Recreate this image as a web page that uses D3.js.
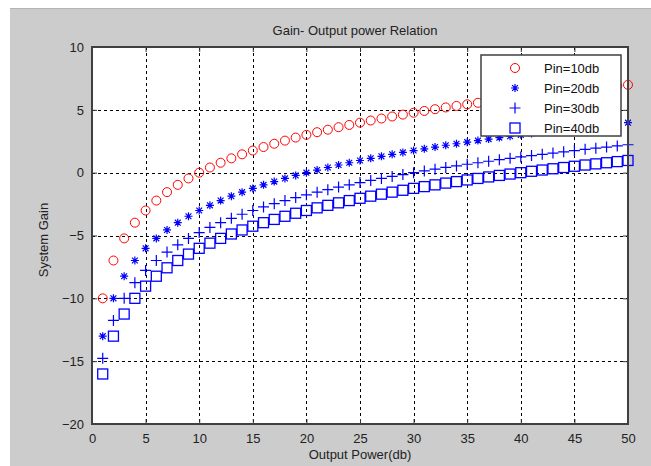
<!DOCTYPE html>
<html>
<head>
<meta charset="utf-8">
<script src="https://cdn.jsdelivr.net/npm/d3@7/dist/d3.min.js"></script>
<style>
  html, body { margin: 0; padding: 0; background: #fff; }
  svg { display: block; font-family: "Liberation Sans", Arial, Helvetica, sans-serif; }
</style>
</head>
<body>
<svg id="chart" width="651" height="466"></svg>
<script>
// --- data ---
const outputPower = d3.range(1, 51); // 1..50
const seriesNames = ["Pin=10db", "Pin=20db", "Pin=30db", "Pin=40db"];
const gainPin10 = [-10, -6.99, -5.23, -3.98, -3.01, -2.22, -1.55, -0.97, -0.46, 0, 0.41, 0.79, 1.14, 1.46, 1.76, 2.04, 2.30, 2.55, 2.79, 3.01, 3.22, 3.42, 3.62, 3.80, 3.98, 4.15, 4.31, 4.47, 4.62, 4.77, 4.91, 5.05, 5.19, 5.31, 5.44, 5.56, 5.68, 5.80, 5.91, 6.02, 6.13, 6.23, 6.33, 6.43, 6.53, 6.63, 6.72, 6.81, 6.90, 6.99];
const gainPin20 = [-13.01, -10, -8.24, -6.99, -6.02, -5.23, -4.56, -3.98, -3.47, -3.01, -2.60, -2.22, -1.87, -1.55, -1.25, -0.97, -0.71, -0.46, -0.22, 0, 0.21, 0.41, 0.61, 0.79, 0.97, 1.14, 1.30, 1.46, 1.61, 1.76, 1.90, 2.04, 2.18, 2.30, 2.43, 2.55, 2.67, 2.79, 2.90, 3.01, 3.12, 3.22, 3.32, 3.42, 3.52, 3.62, 3.71, 3.80, 3.89, 3.98];
const gainPin30 = [-14.77, -11.76, -10, -8.75, -7.78, -6.99, -6.32, -5.74, -5.23, -4.77, -4.36, -3.98, -3.63, -3.31, -3.01, -2.73, -2.47, -2.22, -1.98, -1.76, -1.55, -1.35, -1.15, -0.97, -0.79, -0.62, -0.46, -0.30, -0.15, 0, 0.14, 0.28, 0.42, 0.54, 0.67, 0.79, 0.91, 1.03, 1.14, 1.25, 1.36, 1.46, 1.56, 1.66, 1.76, 1.86, 1.95, 2.04, 2.13, 2.22];
const gainPin40 = [-16.02, -13.01, -11.25, -10, -9.03, -8.24, -7.57, -6.99, -6.48, -6.02, -5.61, -5.23, -4.88, -4.56, -4.26, -3.98, -3.72, -3.47, -3.23, -3.01, -2.80, -2.60, -2.40, -2.22, -2.04, -1.87, -1.71, -1.55, -1.40, -1.25, -1.11, -0.97, -0.83, -0.71, -0.58, -0.46, -0.34, -0.22, -0.11, 0, 0.11, 0.21, 0.31, 0.41, 0.51, 0.61, 0.70, 0.79, 0.88, 0.97];
const xTicks = [0, 5, 10, 15, 20, 25, 30, 35, 40, 45, 50];
const yTicks = [-20, -15, -10, -5, 0, 5, 10];

const svg = d3.select("#chart");

// figure background (MATLAB grey)
svg.append("rect").attr("x", 10).attr("y", 8).attr("width", 641).attr("height", 458).attr("fill", "#cccccc");
svg.append("line").attr("x1", 10).attr("x2", 651).attr("y1", 8.5).attr("y2", 8.5).attr("stroke", "#b4b4b4");

const plot = { left: 92, top: 47, right: 628, bottom: 424 };
const x = d3.scaleLinear().domain([0, 50]).range([plot.left, plot.right]);
const y = d3.scaleLinear().domain([-20, 10]).range([plot.bottom, plot.top]);

svg.append("rect")
  .attr("x", plot.left).attr("y", plot.top)
  .attr("width", plot.right - plot.left).attr("height", plot.bottom - plot.top)
  .attr("fill", "#fff");

// grid
const grid = svg.append("g").attr("stroke", "#000").attr("stroke-width", 1).attr("stroke-dasharray", "3,3");
grid.selectAll(".gx").data(xTicks.slice(1, -1)).enter().append("line")
  .attr("x1", d => Math.round(x(d)) + 0.5).attr("x2", d => Math.round(x(d)) + 0.5)
  .attr("y1", plot.top).attr("y2", plot.bottom);
grid.selectAll(".gy").data(yTicks.slice(1, -1)).enter().append("line")
  .attr("y1", d => Math.round(y(d)) + 0.5).attr("y2", d => Math.round(y(d)) + 0.5)
  .attr("x1", plot.left).attr("x2", plot.right);

// axes (ticks inside, like MATLAB)
const axisStyle = g => {
  g.select(".domain").remove();
  g.selectAll(".tick line").attr("stroke", "#333");
  g.selectAll(".tick text").attr("fill", "#222").style("font-size", "13px");
};
svg.append("g").attr("transform", `translate(0,${plot.bottom})`)
  .call(d3.axisBottom(x).tickValues(xTicks).tickSize(-5).tickPadding(10))
  .call(axisStyle);
svg.append("g").attr("transform", `translate(0,${plot.top})`)
  .call(d3.axisTop(x).tickValues(xTicks).tickSize(-5).tickFormat(""))
  .call(axisStyle);
svg.append("g").attr("transform", `translate(${plot.left},0)`)
  .call(d3.axisLeft(y).tickValues(yTicks).tickSize(-5).tickPadding(8))
  .call(axisStyle);
svg.append("g").attr("transform", `translate(${plot.right},0)`)
  .call(d3.axisRight(y).tickValues(yTicks).tickSize(-5).tickFormat(""))
  .call(axisStyle);

// markers
const blue = "#0000ff", red = "#ff0000";
const mk = {
  circle: (g, cx, cy) => g.append("circle").attr("cx", cx).attr("cy", cy).attr("r", 4.5).attr("fill", "none").attr("stroke", red),
  star: (g, cx, cy) => {
    const s = 4, d = 2.9;
    const p = `M${cx - s},${cy}L${cx + s},${cy}M${cx},${cy - s}L${cx},${cy + s}M${cx - d},${cy - d}L${cx + d},${cy + d}M${cx - d},${cy + d}L${cx + d},${cy - d}`;
    g.append("path").attr("d", p).attr("stroke", blue).attr("stroke-width", 1.2).attr("fill", "none");
  },
  plus: (g, cx, cy) => {
    const s = 5.5;
    g.append("path").attr("d", `M${cx - s},${cy}L${cx + s},${cy}M${cx},${cy - s}L${cx},${cy + s}`)
      .attr("stroke", blue).attr("stroke-width", 1.2).attr("fill", "none");
  },
  square: (g, cx, cy) => g.append("rect").attr("x", cx - 5).attr("y", cy - 5).attr("width", 10).attr("height", 10)
    .attr("fill", "none").attr("stroke", blue).attr("stroke-width", 1.3)
};
const series = [
  { name: seriesNames[0], values: gainPin10, marker: "circle" },
  { name: seriesNames[1], values: gainPin20, marker: "star" },
  { name: seriesNames[2], values: gainPin30, marker: "plus" },
  { name: seriesNames[3], values: gainPin40, marker: "square" }
];
const marks = svg.append("g");
series.forEach(s => {
  const g = marks.append("g");
  s.values.forEach((v, i) => mk[s.marker](g, x(outputPower[i]), y(v)));
});

// box
svg.append("rect")
  .attr("x", plot.left).attr("y", plot.top)
  .attr("width", plot.right - plot.left).attr("height", plot.bottom - plot.top)
  .attr("fill", "none").attr("stroke", "#404040").attr("stroke-width", 2);

// legend
const lg = svg.append("g").attr("transform", "translate(481,55)");
lg.append("rect").attr("width", 140).attr("height", 81).attr("fill", "#fff").attr("stroke", "#404040").attr("stroke-width", 1.5);
series.forEach((s, i) => {
  const cy = 13 + i * 20;
  mk[s.marker](lg, 34, cy);
  lg.append("text").attr("x", 63).attr("y", cy + 5).text(s.name).style("font-size", "13px").attr("fill", "#111");
});

// titles
svg.append("text").attr("x", 355).attr("y", 35).attr("text-anchor", "middle").style("font-size", "13px").attr("fill", "#222")
  .text("Gain- Output power Relation");
svg.append("text").attr("x", 360).attr("y", 459).attr("text-anchor", "middle").style("font-size", "13px").attr("fill", "#222")
  .text("Output Power(db)");
svg.append("text").attr("transform", "translate(48,240) rotate(-90)").attr("text-anchor", "middle").style("font-size", "13px").attr("fill", "#222")
  .text("System Gain");
</script>
</body>
</html>
